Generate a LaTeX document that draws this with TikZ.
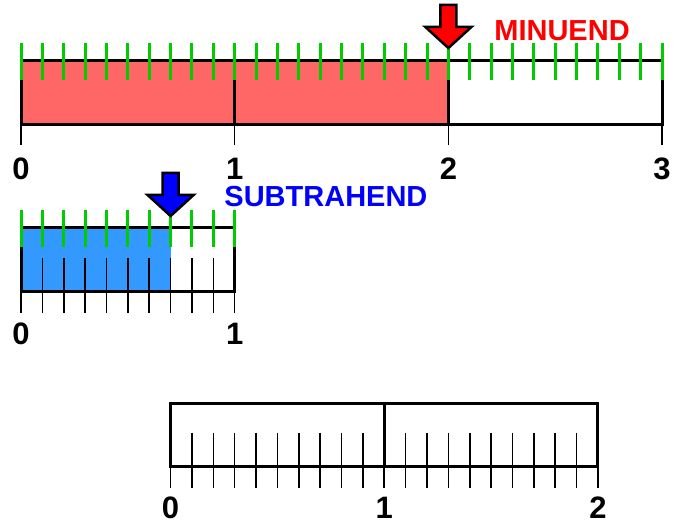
\documentclass[tikz,border=0pt]{standalone}
\usepackage{fontspec}
\setmainfont{Liberation Sans}
\definecolor{minuendfill}{RGB}{255,102,102}
\definecolor{subtrahendfill}{RGB}{51,153,255}
\definecolor{tickgreen}{RGB}{0,204,0}
\tikzset{
  bar/.style={line width=3pt},
  greentick/.style={tickgreen, line width=3pt},
  minortick/.style={line width=1.6pt},
  numlabel/.style={font=\fontsize{31}{31}\selectfont\bfseries, inner sep=0pt},
  wordlabel/.style={font=\fontsize{29}{29}\selectfont\bfseries, inner sep=0pt},
  pointer/.pic={
    \draw[line width=2.5pt, line join=miter, pic actions]
      (0,0) -- (-23pt,21pt) -- (-8pt,21pt) -- (-8pt,43pt)
      -- (8pt,43pt) -- (8pt,21pt) -- (23pt,21pt) -- cycle;
  },
}

\begin{document}
\begin{tikzpicture}[x=213.7pt, y=-1pt]
                    \useasboundingbox (-0.0983,0) rectangle (3.1073,527);

                      % Minuend bar
                      \coordinate (m0) at (0,61);
                      \coordinate (m2) at (2,125);
                      \coordinate (m3) at (3,125);
                      \fill[minuendfill] (m0) rectangle (m2);
                      \draw[bar] (m0) rectangle (m3);
                      \draw[bar] (1,61) -- (1,125);
                      \draw[bar] (2,61) -- (2,125);
                      \foreach \i in {0,...,30}
                        \draw[greentick] (\i/10,43) -- (\i/10,80);
                      \foreach \i in {0,...,3} {
                        \draw[minortick] (\i,125) -- (\i,145);
                        \node[numlabel] (mlab\i) at (\i,169) {\i};
                      }

                      % Pointer and label
                      \coordinate (mtip) at (2,48);
                      \pic[fill=red] at (mtip) {pointer};
                      \node[wordlabel, text=red] (minuend) at (2.532,31) {MINUEND};

                      % Subtrahend bar
                      \coordinate (s0) at (0,228);
                      \coordinate (s7) at (0.7,292);
                      \coordinate (s10) at (1,292);
                      \fill[subtrahendfill] (s0) rectangle (s7);
                      \foreach \i in {1,...,9}
                        \draw[minortick] (\i/10,258) -- (\i/10,292);
                      \draw[bar] (s0) rectangle (s10);
                      \foreach \i in {0,...,10} {
                        \draw[greentick] (\i/10,210) -- (\i/10,247);
                        \draw[minortick] (\i/10,292) -- (\i/10,313);
                      }
                      \node[numlabel] (slab0) at (0,334) {0};
                      \node[numlabel] (slab1) at (1,334) {1};

                      \coordinate (stip) at (0.7,216);
                      \pic[fill=blue] at (stip) {pointer};
                      \node[wordlabel, text=blue] (subtrahend) at (1.427,197) {SUBTRAHEND};

                      % Difference bar
                      \begin{scope}[shift={(0.7,0)}]
                        \coordinate (d0) at (0,404);
                        \coordinate (d2) at (2,467);
                        \foreach \i in {1,...,19}
                          \draw[minortick] (\i/10,433) -- (\i/10,467);
                        \draw[bar] (d0) rectangle (d2);
                        \draw[bar] (1,404) -- (1,467);
                        \foreach \i in {0,...,20}
                          \draw[minortick] (\i/10,467) -- (\i/10,488);
                        \foreach \i in {0,1,2}
                          \node[numlabel] (dlab\i) at (\i,508) {\i};
                      \end{scope}
\end{tikzpicture}
\end{document}
